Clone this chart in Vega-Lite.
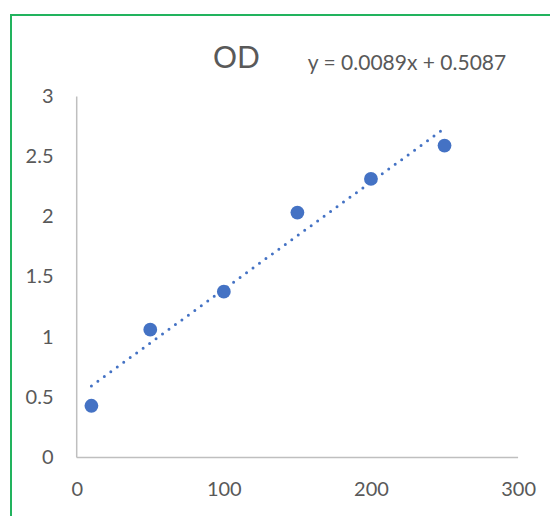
{
  "$schema": "https://vega.github.io/schema/vega-lite/v6.json",
  "autosize": {"type": "none"},
  "padding": {"left": 11, "top": 15, "right": 0, "bottom": 0},
  "width": 539,
  "height": 501,
  "background": "white",
  "title": {
    "text": "OD",
    "font": "Lato",
    "fontSize": 30,
    "fontWeight": "normal",
    "color": "#595959",
    "anchor": "middle",
    "frame": "group",
    "dx": -44,
    "baseline": "alphabetic",
    "offset": -84
  },
  "config": {
    "view": {"stroke": null},
    "font": "Lato",
    "axis": {
      "domain": false,
      "ticks": false,
      "tickSize": 0,
      "grid": false,
      "labelPadding": 0,
      "labelFont": "Lato",
      "labelFontSize": 20,
      "labelColor": "#595959",
      "labelFlush": false,
      "labelOverlap": false,
      "labelBound": false
    },
    "axisX": {"offset": -36.5},
    "axisY": {"offset": -42}
  },
  "data": {
    "values": [
      {"conc": 10, "od": 0.43},
      {"conc": 50, "od": 1.062},
      {"conc": 100, "od": 1.378},
      {"conc": 150, "od": 2.035},
      {"conc": 200, "od": 2.315},
      {"conc": 250, "od": 2.592}
    ]
  },
  "layer": [
    {
      "data": {"values": [{}]},
      "mark": {"type": "rect", "fill": "transparent", "stroke": "#22B35E", "strokeWidth": 2},
      "encoding": {
        "x": {"datum": -44.654, "type": "quantitative", "scale": {"domain": [-44.654, 321.69], "nice": false, "zero": false}, "axis": {"title": null}},
        "x2": {"datum": 400},
        "y": {"datum": 3.6773, "type": "quantitative", "scale": {"domain": [-0.4862, 3.6773], "nice": false, "zero": false}, "axis": {"title": null}},
        "y2": {"datum": -1}
      }
    },
    {
      "data": {"values": [{}]},
      "mark": {"type": "rule", "color": "#BFBFBF", "strokeWidth": 1.5},
      "encoding": {
        "x": {"datum": 0, "type": "quantitative", "axis": {"title": null}},
        "y": {"datum": 0, "type": "quantitative", "axis": {"title": null}},
        "y2": {"datum": 3}
      }
    },
    {
      "data": {"values": [{}]},
      "mark": {"type": "rule", "color": "#BFBFBF", "strokeWidth": 1.5},
      "encoding": {
        "x": {"datum": 0, "type": "quantitative", "axis": {"title": null}},
        "x2": {"datum": 300},
        "y": {"datum": 0, "type": "quantitative", "axis": {"title": null}}
      }
    },
    {
      "mark": {"type": "point", "filled": true, "shape": "circle", "size": 190, "color": "#4472C4", "opacity": 1},
      "encoding": {
        "x": {"field": "conc", "type": "quantitative", "scale": {"domain": [-44.654, 321.69], "nice": false, "zero": false}, "axis": {"values": [0, 100, 200, 300], "format": "d", "title": null}},
        "y": {"field": "od", "type": "quantitative", "scale": {"domain": [-0.4862, 3.6773], "nice": false, "zero": false}, "axis": {"values": [0, 0.5, 1, 1.5, 2, 2.5, 3], "format": "~g", "title": null}}
      }
    },
    {
      "transform": [{"regression": "od", "on": "conc"}],
      "mark": {"type": "line", "color": "#4472C4", "strokeWidth": 3, "strokeDash": [0, 8], "strokeCap": "round"},
      "encoding": {
        "x": {"field": "conc", "type": "quantitative", "axis": {"title": null}},
        "y": {"field": "od", "type": "quantitative", "axis": {"title": null}}
      }
    },
    {
      "data": {"values": [{"eq": "y = 0.0089x + 0.5087"}]},
      "mark": {"type": "text", "font": "Lato", "fontSize": 21, "color": "#595959", "align": "center", "baseline": "middle"},
      "encoding": {
        "text": {"field": "eq", "type": "nominal"},
        "x": {"datum": 224.5, "type": "quantitative", "axis": {"title": null}},
        "y": {"datum": 3.272, "type": "quantitative", "axis": {"title": null}}
      }
    }
  ]
}
